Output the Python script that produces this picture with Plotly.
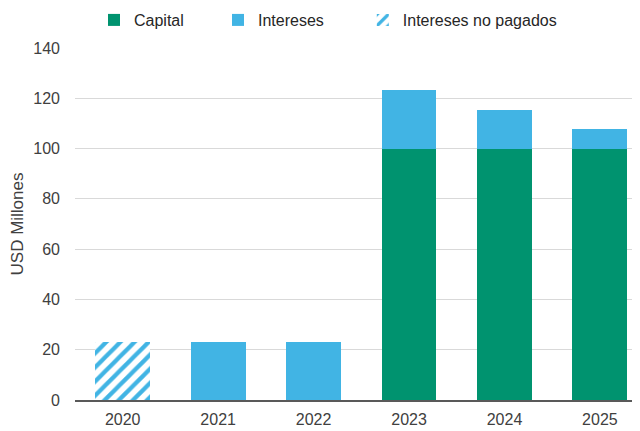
import plotly.graph_objects as go

years = ["2020", "2021", "2022", "2023", "2024", "2025"]
capital = [None, None, None, 100, 100, 100]
intereses = [None, 23, 23, 23.2, 15.4, 7.8]
intereses_no_pagados = [23, None, None, None, None, None]

green = "#00936F"
blue = "#41B4E4"
font_family = "Liberation Sans, Arial, sans-serif"

fig = go.Figure()
fig.add_trace(go.Bar(x=years, y=capital, name="Capital", marker=dict(color=green, line=dict(width=0)),
                     width=0.575, legend="legend"))
fig.add_trace(go.Bar(x=years, y=intereses, name="Intereses", marker=dict(color=blue, line=dict(width=0)),
                     width=0.575, legend="legend2"))
fig.add_trace(go.Bar(x=years, y=intereses_no_pagados, name="Intereses no pagados",
                     marker=dict(color="white", line=dict(width=0),
                                 pattern=dict(shape="/", fgcolor=blue, bgcolor="white", fgopacity=1,
                                              size=10, solidity=0.42)),
                     width=0.575, legend="legend3"))

legend_common = dict(orientation="h", yref="container", yanchor="middle", y=0.9716, xanchor="left",
                     font=dict(size=16, color="#262626", family=font_family),
                     bgcolor="rgba(0,0,0,0)", itemclick=False)

# page body has an 8px margin; figure is sized so it ends at the window edge
fig.update_layout(
    barmode="stack",
    width=632, height=423,
    margin=dict(l=67, r=0, t=40, b=31, autoexpand=False),
    paper_bgcolor="white", plot_bgcolor="white",
    font=dict(family=font_family, size=16, color="#404040"),
    showlegend=True,
    legend=dict(x=0.0336, **legend_common),
    legend2=dict(x=0.2531, **legend_common),
    legend3=dict(x=0.5094, **legend_common),
    xaxis=dict(range=[-0.5, 5.42], showgrid=False, showline=True, linecolor="#595959", linewidth=1.5,
               ticks="", ticklabelstandoff=4, tickfont=dict(size=16, color="#404040")),
    yaxis=dict(range=[0, 140], dtick=20, showgrid=True, gridcolor="#D9D9D9", gridwidth=1,
               zeroline=False, showline=False, ticks="", ticklabelstandoff=14,
               tickfont=dict(size=16, color="#404040"),
               title=dict(text="USD Millones", font=dict(size=17, color="#404040"), standoff=6)),
    bargap=0.4,
)

fig.write_html("out.html")
